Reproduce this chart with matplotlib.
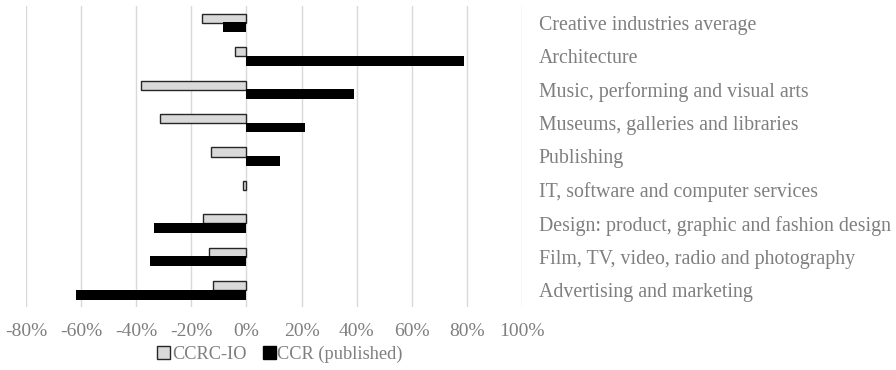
import matplotlib
matplotlib.use("Agg")
import matplotlib.pyplot as plt
import numpy as np
from matplotlib.ticker import FuncFormatter, FixedLocator
from matplotlib.patches import Patch

categories = [
    "Creative industries average",
    "Architecture",
    "Music, performing and visual arts",
    "Museums, galleries and libraries",
    "Publishing",
    "IT, software and computer services",
    "Design: product, graphic and fashion design",
    "Film, TV, video, radio and photography",
    "Advertising and marketing",
]
ccrc_io = [-16.1, -4.0, -38.3, -31.2, -12.7, -1.2, -15.9, -13.5, -12.1]
ccr_published = [-8.5, 79.0, 39.0, 21.2, 12.0, 0.0, -33.5, -35.0, -61.8]
series_names = ["CCRC-IO", "CCR (published)"]
xticks = [-80, -60, -40, -20, 0, 20, 40, 60, 80, 100]

plt.rcParams['font.family'] = ['Liberation Serif', 'DejaVu Serif']
text_col = "#7f7f7f"

fig = plt.figure(figsize=(8.96, 3.70), dpi=100)
ax = fig.add_axes([26/896, 1-307/370, (522-26)/896, (307-6)/370])

n = len(categories)
y = np.arange(n)
h = 0.27
ax.barh(y - h/2, ccrc_io, height=h, color="#d9d9d9", edgecolor="#262626", linewidth=1.0, zorder=3)
ax.barh(y + h/2, ccr_published, height=h + 0.02, color="#000000", linewidth=0, zorder=3)

ax.set_xlim(-80, 100)
ax.set_ylim(n - 0.5, -0.5)
ax.xaxis.set_major_locator(FixedLocator(xticks))
ax.xaxis.set_major_formatter(FuncFormatter(lambda v, p: f"{int(round(v))}%"))
ax.set_yticks(y)
ax.set_yticklabels(categories)
ax.yaxis.tick_right()
ax.tick_params(axis='y', length=0, pad=12, labelsize=14.3, labelcolor=text_col)
ax.tick_params(axis='x', length=0, pad=11.5, labelsize=14, labelcolor=text_col)
for lbl in ax.get_yticklabels():
    lbl.set_horizontalalignment('left')

ax.grid(axis='x', color="#d9d9d9", linewidth=1.0, zorder=0)
ax.grid(axis='y', visible=False)
for s in ax.spines.values():
    s.set_visible(False)

handles = [Patch(facecolor="#d9d9d9", edgecolor="#262626", linewidth=1.0),
           Patch(facecolor="#000000", edgecolor="#000000")]
fig.legend(handles, series_names, loc='center', bbox_to_anchor=(280/896, 1-354/370),
           ncol=2, frameon=False, fontsize=13.2, labelcolor=text_col,
           handlelength=0.7, handleheight=0.7, handletextpad=0.1, columnspacing=0.9)

fig.savefig("out.png", dpi=100)
